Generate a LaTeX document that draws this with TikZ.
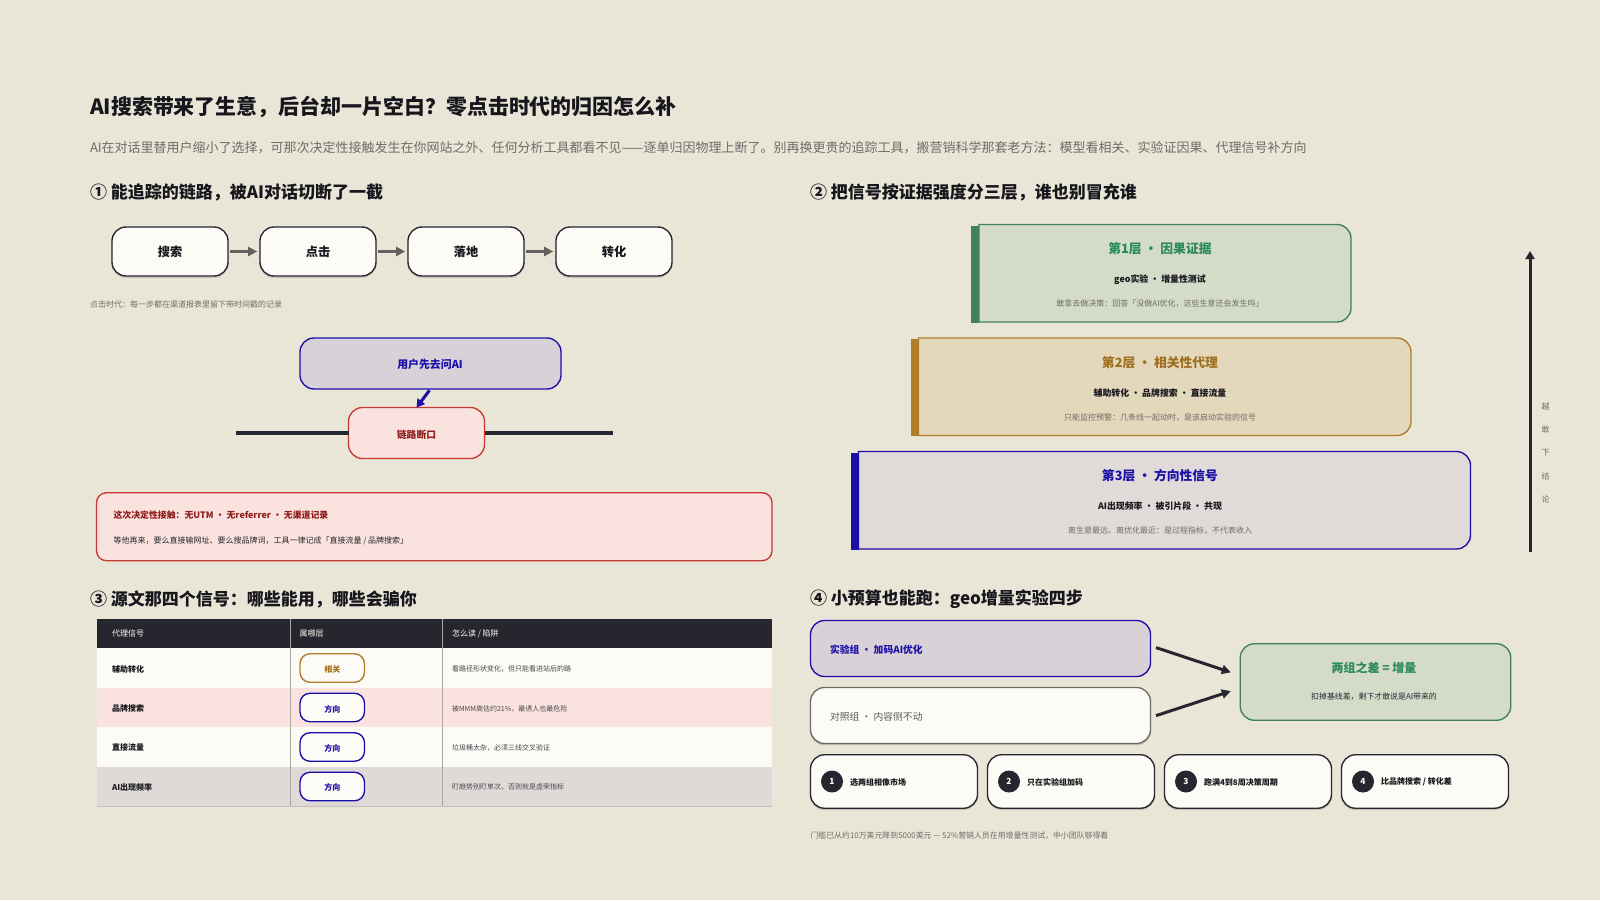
\documentclass[tikz,border=0pt]{standalone}
\usepackage{fontspec}
\setmainfont{Noto Sans CJK SC}
\usetikzlibrary{arrows.meta,calc}
\definecolor{bg}{HTML}{E9E6D8}
\definecolor{ink}{HTML}{26262E}
\definecolor{tink}{HTML}{16161C}
\definecolor{blue}{HTML}{1B0FA8}
\definecolor{redl}{HTML}{C63A33}
\definecolor{redt}{HTML}{8F1D1D}
\definecolor{card}{HTML}{FCFBF6}
\definecolor{grayt}{HTML}{6E6C68}
\definecolor{green}{HTML}{3F8060}
\definecolor{greent}{HTML}{2A8A58}
\definecolor{amber}{HTML}{B07D2B}
\definecolor{ambert}{HTML}{A06F1E}
\definecolor{gfill}{HTML}{D5DBC9}
\definecolor{afill}{HTML}{E4D8BC}
\definecolor{bfill}{HTML}{E0DAD9}
\definecolor{aifill}{HTML}{D8D2D8}
\definecolor{rfill}{HTML}{FAE3DE}
\definecolor{rowg}{HTML}{DFDAD7}
\definecolor{sep}{HTML}{A8A6A0}
\newcommand{\pxf}[1]{\fontsize{#1}{#1}\selectfont}
\tikzset{
  x=0.5pt,y=-0.5pt,
  wh/.style 2 args={minimum width=#1*0.5pt,minimum height=#2*0.5pt,inner sep=0pt,outer sep=0pt},
  rbox/.style={rectangle,rounded corners=7pt,line width=0.68pt},
  softedge/.style={preaction={draw=ink,draw opacity=0.18,line width=0.7pt,transform canvas={yshift=-0.6pt}}},
  cardbox/.style={rbox,softedge,draw=ink,fill=card,font=\bfseries\pxf{6.1pt},text=tink},
  txt/.style={inner sep=0pt,outer sep=0pt},
  lft/.style={txt,anchor=west},
  head/.style={lft,font=\bfseries\pxf{8.5pt},text=tink},
  pill/.style={rbox,rounded corners=5pt,wh={64.5}{28.5},fill=card},
  pilltxt/.style={txt,font=\bfseries\pxf{4pt}},
  th/.style={lft,font=\pxf{4pt},text=card},
  tdb/.style={lft,font=\bfseries\pxf{4pt},text=tink},
  td/.style={lft,font=\pxf{3.5pt},text=ink!85},
  arr/.style={line width=1.5pt,-{Triangle[length=4.5pt,width=4.5pt]}},
}
\begin{document}
\begin{tikzpicture}
\useasboundingbox (0,0) rectangle (1600,900);
\fill[bg] (0,0) rectangle (1600,900);
% title
\node[lft,font=\bfseries\pxf{10.47pt},text=tink] (title) at (90,107) {AI搜索带来了生意，后台却一片空白？零点击时代的归因怎么补};
\node[lft,font=\pxf{6.5pt},text=grayt] (sub) at (90,148) {AI在对话里替用户缩小了选择，可那次决定性接触发生在你网站之外、任何分析工具都看不见——逐单归因物理上断了。别再换更贵的追踪工具，搬营销科学那套老方法：模型看相关、实验证因果、代理信号补方向};
\node[head] (h1) at (90,192) {① 能追踪的链路，被AI对话切断了一截};
\node[head] (h2) at (810,192) {② 把信号按证据强度分三层，谁也别冒充谁};
\node[head] (h3) at (90,599.5) {③ 源文那四个信号：哪些能用，哪些会骗你};
\node[head] (h4) at (810,599.5) {④ 小预算也能跑：geo增量实验四步};
% flow
\node[cardbox,wh={116}{49}] (f1) at (170,251.5) {搜索};
\node[cardbox,wh={116}{49}] (f2) at (318,251.5) {点击};
\node[cardbox,wh={116}{49}] (f3) at (466,251.5) {落地};
\node[cardbox,wh={116}{49}] (f4) at (614,251.5) {转化};
\foreach \a/\b in {f1/f2,f2/f3,f3/f4}
  \draw[arr,draw=grayt!90!black,shorten <=1pt,shorten >=1.4pt] (\a) -- (\b);
\node[lft,font=\pxf{4pt},text=grayt] (cap) at (90,304) {点击时代：每一步都在渠道报表里留下带时间戳的记录};
% break
\coordinate (lineL) at (236,433);
\coordinate (lineR) at (613,433);
\node[rbox,wh={136}{51},draw=redl,fill=rfill] (brk) at (416.5,433) {};
\node[txt,font=\bfseries\pxf{4.9pt},text=redt] (brkt) at (416.5,434.5) {链路断口};
\draw[line width=2pt,draw=ink] (lineL) -- (brk.west);
\draw[line width=2pt,draw=ink] (brk.east) -- (lineR);
\node[rbox,wh={261}{51},draw=blue,fill=aifill] (ai) at (430.5,363.5) {};
\node[txt,font=\bfseries\pxf{5.45pt},text=blue] (ait) at (430,364) {用户先去问AI};
\draw[line width=1.5pt,draw=blue,-{Triangle[length=4pt,width=4.5pt]},shorten <=0.8pt] (ai.south) -- (brk.north);
% callout
\node[rbox,rounded corners=5pt,wh={675.5}{68},draw=redl,fill=rfill] (call) at (434.25,526.7) {};
\node[lft,font=\bfseries\pxf{4.44pt},text=redt] (c1) at (113.5,515) {这次决定性接触：无UTM · 无referrer · 无渠道记录};
\node[lft,font=\pxf{4pt},text=ink] (c2) at (113.5,540.5) {等他再来，要么直接输网址、要么搜品牌词，工具一律记成「直接流量 / 品牌搜索」};
% table
\fill[ink] (97,619) rectangle (772,648);
\fill[card] (97,648) rectangle (772,688);
\fill[rfill] (97,688) rectangle (772,727);
\fill[card] (97,727) rectangle (772,767);
\fill[rowg] (97,767) rectangle (772,806);
\draw[sep,line width=0.4pt] (290.5,619) -- (290.5,806) (442.5,619) -- (442.5,806);
\draw[sep!70,line width=0.5pt] (97,806) -- (772,806);
\node[th] (t0a) at (112,633.5) {代理信号};
\node[th] (t0b) at (299.5,633.5) {属哪层};
\node[th] (t0c) at (452,633.5) {怎么读 / 陷阱};
\node[tdb] (t1a) at (112,669) {辅助转化};
\node[tdb] (t2a) at (112,708) {品牌搜索};
\node[tdb] (t3a) at (112,747.5) {直接流量};
\node[tdb] (t4a) at (112,787) {AI出现频率};
\node[pill,draw=amber] (p1) at (332.25,668) {};
\node[pill,draw=blue] (p2) at (332.25,707.5) {};
\node[pill,draw=blue] (p3) at (332.25,747) {};
\node[pill,draw=blue] (p4) at (332.25,786.5) {};
\node[pilltxt,text=ambert] (q1) at (332.25,669.5) {相关};
\node[pilltxt,text=blue] (q2) at (332.25,709) {方向};
\node[pilltxt,text=blue] (q3) at (332.25,748.5) {方向};
\node[pilltxt,text=blue] (q4) at (332.25,787.5) {方向};
\node[td] (t1c) at (452,668.5) {看路径形状变化，但只能看进站后的路};
\node[td] (t2c) at (452,708.5) {被MMM高估约21\%，最诱人也最危险};
\node[td] (t3c) at (452,747.5) {垃圾桶太杂，必须三线交叉验证};
\node[td] (t4c) at (452,787) {盯趋势别盯单次，否则就是虚荣指标};
% layers
\foreach \n/\l/\t/\r/\f/\c/\ct/\cx/\A/\B/\C in {
 1/979/224.5/1351/gfill/green/greent/1160/{第1层 · 因果证据}/{geo实验 · 增量性测试}/{敢拿去做决策：回答「没做AI优化，这些生意还会发生吗」},
 2/918.5/338/1411/afill/amber/ambert/1160/{第2层 · 相关性代理}/{辅助转化 · 品牌搜索 · 直接流量}/{只能监控预警：几条线一起动时，是该启动实验的信号},
 3/858.5/451.5/1470.5/bfill/blue/blue/1160/{第3层 · 方向性信号}/{AI出现频率 · 被引片段 · 共现}/{离生意最远、离优化最近：是过程指标，不代表收入}}{
  \path[draw=\c,fill=\f,line width=0.68pt] (\l,\t) [rounded corners=7pt] -- (\r,\t) -- (\r,\t+97.5) [sharp corners] -- (\l,\t+97.5) -- cycle;
  \fill[\c] (\l-8,\t+1) rectangle (\l,\t+98);
  \node[txt,font=\bfseries\pxf{6.4pt},text=\ct] (lay\n a) at (\cx,\t+24.5) {\A};
  \node[txt,font=\bfseries\pxf{4.45pt},text=tink] (lay\n b) at (\cx,\t+54.8) {\B};
  \node[txt,font=\pxf{4pt},text=grayt] (lay\n c) at (\cx,\t+79.3) {\C};
}
% axis
\coordinate (axB) at (1530,552);
\coordinate (axT) at (1530,251);
\draw[line width=1.5pt,draw=ink,-{Triangle[length=4pt,width=4.5pt]}] (axB) -- (axT);
\foreach \ch/\yy in {越/406,敢/429.5,下/453,结/476,论/499.5}
  \node[txt,font=\pxf{4pt},text=grayt] at (1545.5,\yy) {\ch};
% experiment
\node[rbox,wh={340}{56},draw=blue,fill=aifill] (ex) at (980.5,648.5) {};
\node[lft,font=\bfseries\pxf{4.9pt},text=blue] (ext) at (830,649.5) {实验组 · 加码AI优化};
\node[rbox,softedge,wh={340}{56},draw=grayt,fill=card] (ct) at (980.5,715.5) {};
\node[lft,font=\pxf{4.9pt},text=grayt!85!black] (ctt) at (830,716.5) {对照组 · 内容侧不动};
\node[rbox,wh={270.5}{76.5},draw=green,fill=gfill] (res) at (1375.5,682) {};
\node[txt,font=\bfseries\pxf{6pt},text=greent] (rest) at (1374,668) {两组之差 = 增量};
\node[txt,font=\pxf{3.95pt},text=ink] (resb) at (1374,696.5) {扣掉基线差，剩下才敢说是AI带来的};
\coordinate (exO) at (1150.3,645.7);
\coordinate (ctO) at (1150.3,717.5);
\coordinate (resA) at (1240.3,675.5);
\coordinate (resB) at (1240.3,688);
\draw[arr,draw=ink,shorten <=3pt,shorten >=5pt] (exO) -- (resA);
\draw[arr,draw=ink,shorten <=3pt,shorten >=5pt] (ctO) -- (resB);
% steps
\foreach \n/\cx/\s in {1/894/{选两组相像市场},2/1071/{只在实验组加码},3/1248/{跑满4到8周决策周期},4/1425/{比品牌搜索 / 转化差}}{
  \node[rbox,softedge,wh={167}{53.5},draw=ink,fill=card] (s\n) at (\cx,781.5) {};
  \node[circle,fill=ink,minimum size=11pt,inner sep=0pt,text=card,font=\bfseries\pxf{4.2pt}] (n\n) at (\cx-62,781.5) {\n};
  \node[lft,font=\bfseries\pxf{4pt},text=tink] (st\n) at (\cx-44,782) {\s};
}
\node[lft,font=\pxf{3.95pt},text=grayt] (foot) at (810.5,835.5) {门槛已从约10万美元降到5000美元 — 52\%营销人员在用增量性测试，中小团队够得着};
\end{tikzpicture}
\end{document}
